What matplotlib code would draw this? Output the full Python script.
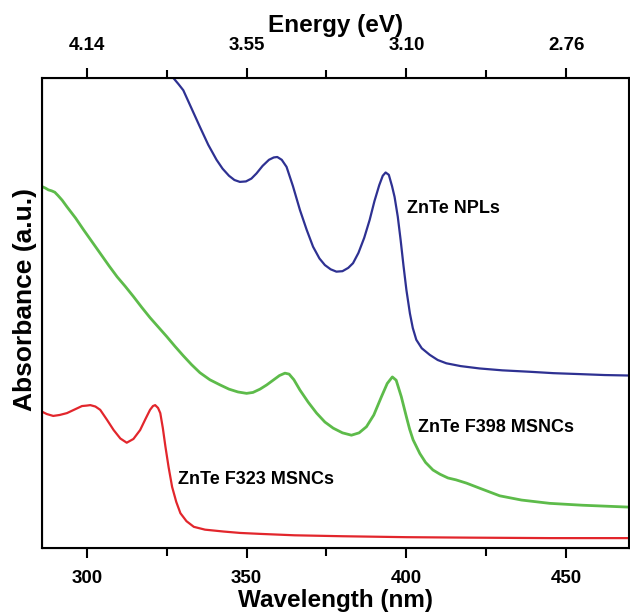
import matplotlib.pyplot as plt

plt.rcParams['font.family'] = ['Liberation Sans', 'DejaVu Sans']
plt.rcParams['font.weight'] = 'bold'

# wavelength (nm) / absorbance (a.u.)
npl_wl = [325.0, 327.1, 328.7, 330.2, 332.8, 335.4, 338.0, 340.6, 342.5, 344.5,
          346.2, 347.9, 349.8, 351.5, 353.1, 355.0, 357.0, 358.5, 359.6, 361.0,
          362.5, 364.5, 366.7, 368.8, 370.8, 372.8, 374.5, 376.3, 378.1, 380.0,
          381.8, 383.3, 385.0, 386.8, 388.5, 390.0, 391.5, 392.6, 393.5, 394.5,
          395.5, 396.3, 397.3, 398.2, 399.1, 400.0, 401.1, 402.0, 403.1, 404.8,
          407.3, 409.8, 412.5, 417.0, 422.9, 430.0, 438.5, 446.0, 454.2, 462.0, 469.5]
npl_abs = [1.015, 1.000, 0.987, 0.974, 0.935, 0.896, 0.858, 0.826, 0.807, 0.792,
           0.783, 0.779, 0.780, 0.786, 0.797, 0.813, 0.826, 0.831, 0.832, 0.826,
           0.811, 0.770, 0.719, 0.677, 0.641, 0.616, 0.602, 0.593, 0.588, 0.589,
           0.596, 0.606, 0.628, 0.660, 0.698, 0.738, 0.772, 0.792, 0.799, 0.794,
           0.770, 0.747, 0.705, 0.655, 0.600, 0.549, 0.499, 0.468, 0.443, 0.425,
           0.411, 0.400, 0.393, 0.387, 0.382, 0.378, 0.375, 0.372, 0.370, 0.368, 0.367]

f398_wl = [286.0, 287.0, 288.0, 289.0, 290.0, 291.0, 292.3, 293.8, 296.5, 299.0,
           301.6, 304.2, 307.0, 309.5, 312.0, 314.6, 317.2, 319.8, 322.4, 325.0,
           327.6, 330.2, 332.8, 335.4, 338.5, 341.7, 344.5, 347.3, 350.0, 352.0,
           354.2, 356.3, 358.3, 360.3, 362.0, 363.3, 364.8, 366.7, 369.3, 371.9,
           374.5, 377.1, 380.0, 382.8, 385.2, 387.5, 389.8, 392.2, 394.0, 395.6,
           396.8, 398.4, 400.0, 401.0, 402.1, 404.2, 406.0, 408.3, 410.5, 413.0,
           415.5, 418.8, 423.0, 429.2, 436.0, 444.8, 455.0, 469.5]
f398_abs = [0.769, 0.766, 0.762, 0.760, 0.757, 0.750, 0.740, 0.726, 0.702, 0.677,
            0.652, 0.627, 0.600, 0.577, 0.557, 0.535, 0.512, 0.490, 0.470, 0.450,
            0.429, 0.409, 0.390, 0.373, 0.358, 0.347, 0.338, 0.332, 0.329, 0.331,
            0.338, 0.347, 0.357, 0.367, 0.372, 0.370, 0.358, 0.336, 0.310, 0.287,
            0.268, 0.255, 0.245, 0.240, 0.245, 0.258, 0.283, 0.322, 0.350, 0.364,
            0.357, 0.322, 0.279, 0.253, 0.230, 0.201, 0.182, 0.166, 0.157, 0.149,
            0.145, 0.138, 0.127, 0.111, 0.102, 0.095, 0.091, 0.087]

f323_wl = [286.0, 287.5, 289.5, 291.5, 293.8, 296.3, 298.5, 300.0, 301.1, 302.7,
           304.2, 306.3, 308.4, 310.5, 312.5, 314.6, 316.7, 318.4, 319.8, 320.7,
           321.4, 322.3, 323.0, 323.8, 324.6, 325.6, 326.7, 328.0, 329.3, 331.2,
           333.5, 337.0, 342.8, 348.0, 354.3, 365.0, 380.0, 400.0, 420.0, 445.0, 469.5]
f323_abs = [0.290, 0.285, 0.281, 0.283, 0.287, 0.295, 0.302, 0.303, 0.304, 0.301,
            0.294, 0.273, 0.251, 0.233, 0.224, 0.232, 0.251, 0.275, 0.294, 0.302,
            0.304, 0.298, 0.287, 0.255, 0.216, 0.172, 0.130, 0.098, 0.074, 0.057,
            0.045, 0.039, 0.035, 0.032, 0.030, 0.027, 0.025, 0.023, 0.022, 0.021, 0.021]

wl_ticks = [300, 350, 400, 450]
wl_minor = [325, 375, 425]
energy_labels = ['4.14', '3.55', '3.10', '2.76']

fig = plt.figure(figsize=(6.3, 6.12), dpi=100)
ax = fig.add_axes([0.0667, 0.1046, 0.931, 0.7679])

ax.plot(npl_wl, npl_abs, color='#2e3192', lw=1.6, solid_joinstyle='round')
ax.plot(f398_wl, f398_abs, color='#5dbb4a', lw=2.0, solid_joinstyle='round')
ax.plot(f323_wl, f323_abs, color='#e2262c', lw=1.6, solid_joinstyle='round')

ax.text(400.3, 0.723, 'ZnTe NPLs', fontsize=13, fontweight='bold', va='center')
ax.text(403.5, 0.257, 'ZnTe F398 MSNCs', fontsize=13, fontweight='bold', va='center')
ax.text(328.6, 0.145, 'ZnTe F323 MSNCs', fontsize=13, fontweight='bold', va='center')

ax.set_xlim(286, 469.5)
ax.set_ylim(0, 1)
ax.set_xticks(wl_ticks)
ax.set_xticks(wl_minor, minor=True)
ax.set_yticks([])
ax.tick_params(axis='x', which='major', length=7, width=1.5, labelsize=13.5, pad=9)
ax.tick_params(axis='x', which='minor', length=6, width=1.5)
ax.set_xlabel('Wavelength (nm)', fontsize=17.5, fontweight='bold', labelpad=1)
ax.set_ylabel('Absorbance (a.u.)', fontsize=19, fontweight='bold')
ax.yaxis.set_label_coords(-0.008, 0.528)
for s in ax.spines.values():
    s.set_linewidth(1.5)

top = ax.twiny()
top.set_xlim(ax.get_xlim())
top.set_xticks(wl_ticks)
top.set_xticklabels(energy_labels)
top.set_xticks(wl_minor, minor=True)
top.tick_params(axis='x', which='major', length=7, width=1.5, labelsize=13.5, pad=10)
top.tick_params(axis='x', which='minor', length=6, width=1.5)
top.set_xlabel('Energy (eV)', fontsize=17.5, fontweight='bold', labelpad=4)

fig.savefig('out.png', dpi=100)
